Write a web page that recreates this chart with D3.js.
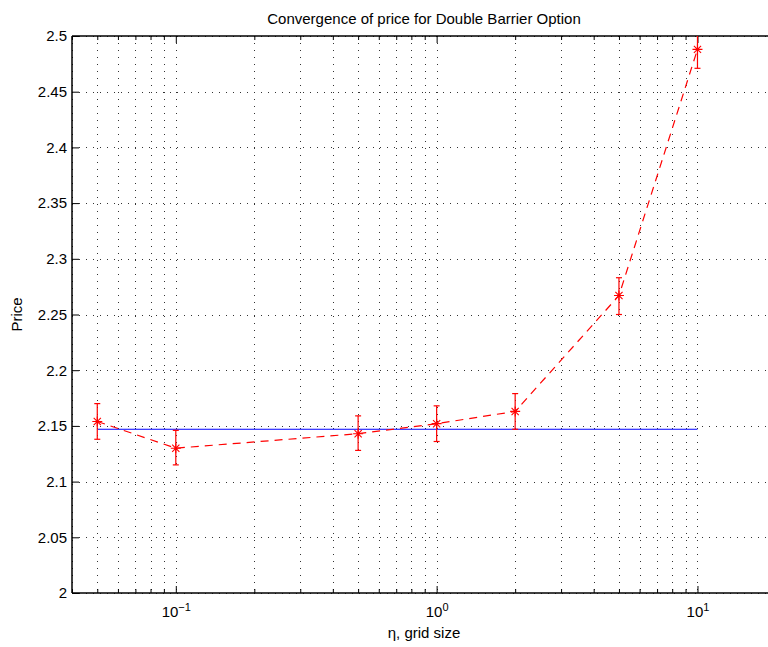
<!DOCTYPE html>
<html lang="en">
<head>
    <meta charset="UTF-8">
    <title>Convergence of price for Double Barrier Option</title>
    <script src="https://d3js.org/d3.v7.min.js"></script>
    <style>
        body {
            margin: 0;
            background: #fff;
            font-family: "Liberation Sans", Arial, sans-serif;
        }
        svg text {
            fill: #000;
        }
    </style>
</head>
<body>
    <div id="chart"></div>

    <script>
        // grid sizes (eta) and the estimated prices
        const gridSize = [0.05, 0.1, 0.5, 1, 2, 5, 10];
        const price    = [2.154, 2.130, 2.143, 2.152, 2.163, 2.267, 2.488];
        const errLow   = [2.138, 2.115, 2.128, 2.136, 2.147, 2.250, 2.471];
        const errHigh  = [2.170, 2.146, 2.159, 2.168, 2.179, 2.283, 2.506];

        // reference (exact) price, drawn across the data range
        const exactPrice = 2.147;

        const yTicks = [2, 2.05, 2.1, 2.15, 2.2, 2.25, 2.3, 2.35, 2.4, 2.45, 2.5];
        const xMajor = [0.1, 1, 10];
        const xMinor = [0.04, 0.05, 0.06, 0.07, 0.08, 0.09,
                        0.2, 0.3, 0.4, 0.5, 0.6, 0.7, 0.8, 0.9,
                        2, 3, 4, 5, 6, 7, 8, 9, 20];
        const xMajorLabels = ['\u22121', '0', '1'];

        const W = 768, H = 647;
        const margin = { top: 36, right: -8, bottom: 54, left: 72 };
        const width = W - margin.left - margin.right;
        const height = H - margin.top - margin.bottom;

        const svg = d3.select('#chart')
            .append('svg')
            .attr('width', W)
            .attr('height', H);

        const g = svg.append('g')
            .attr('transform', `translate(${margin.left}, ${margin.top})`);

        const x = d3.scaleLog().domain([0.04, 20]).range([0, width]);
        const y = d3.scaleLinear().domain([2, 2.5]).range([height, 0]);

        g.append('clipPath').attr('id', 'plot-clip')
            .append('rect')
            .attr('width', width)
            .attr('height', height);

        // dotted grid
        const grid = g.append('g').attr('stroke', '#333').attr('stroke-width', 1)
            .attr('stroke-dasharray', '1,6');
        grid.selectAll('.vgrid')
            .data(xMajor.concat(xMinor))
            .enter().append('line')
            .attr('x1', d => Math.round(x(d)) + 0.5)
            .attr('x2', d => Math.round(x(d)) + 0.5)
            .attr('y1', 0)
            .attr('y2', height);
        grid.selectAll('.hgrid')
            .data(yTicks)
            .enter().append('line')
            .attr('x1', 0)
            .attr('x2', width)
            .attr('y1', d => Math.round(y(d)) + 0.5)
            .attr('y2', d => Math.round(y(d)) + 0.5);

        // axes with inward ticks
        function styleAxis(sel) {
            sel.selectAll('.domain').remove();
            sel.selectAll('line').attr('stroke', '#000');
            sel.selectAll('text')
                .style('font-family', '"Liberation Sans", Arial, sans-serif')
                .style('font-size', '15px')
                .attr('fill', '#000');
        }

        g.append('g')
            .attr('transform', `translate(0, ${height})`)
            .call(d3.axisBottom(x).tickValues(xMinor).tickSizeInner(-4).tickSizeOuter(0).tickFormat(''))
            .call(styleAxis);
        const xMajorAxis = g.append('g')
            .attr('transform', `translate(0, ${height})`)
            .call(d3.axisBottom(x).tickValues(xMajor).tickSizeInner(-7).tickSizeOuter(0).tickPadding(13)
                .tickFormat(() => ''))
            .call(styleAxis);
        xMajorAxis.selectAll('.tick text')
            .each(function (d, i) {
                const t = d3.select(this);
                t.append('tspan').text('10');
                t.append('tspan').attr('dy', '-0.5em').style('font-size', '11px').text(xMajorLabels[i]);
            });

        g.append('g')
            .call(d3.axisTop(x).tickValues(xMinor).tickSizeInner(-4).tickSizeOuter(0).tickFormat(''))
            .call(styleAxis);
        g.append('g')
            .call(d3.axisTop(x).tickValues(xMajor).tickSizeInner(-7).tickSizeOuter(0).tickFormat(''))
            .call(styleAxis);

        g.append('g')
            .call(d3.axisLeft(y).tickValues(yTicks).tickSizeInner(-7).tickSizeOuter(0).tickPadding(5)
                .tickFormat(d3.format('~g')))
            .call(styleAxis);

        // axis box lines (the right side runs off the figure)
        g.append('line').attr('x1', 0).attr('x2', width).attr('y1', height).attr('y2', height)
            .attr('stroke', '#000').attr('stroke-width', 1.5);
        g.append('line').attr('x1', 0).attr('x2', width).attr('y1', 0).attr('y2', 0)
            .attr('stroke', '#000').attr('stroke-width', 1.5);
        g.append('line').attr('x1', 0).attr('x2', 0).attr('y1', 0).attr('y2', height)
            .attr('stroke', '#000').attr('stroke-width', 1.5);

        const plot = g.append('g').attr('clip-path', 'url(#plot-clip)');

        // exact price line
        plot.append('path')
            .datum([gridSize[0], gridSize[gridSize.length - 1]])
            .attr('fill', 'none')
            .attr('stroke', '#0000ff')
            .attr('stroke-width', 1.2)
            .attr('d', d3.line().x(d => x(d)).y(() => y(exactPrice)));

        // dashed convergence line
        plot.append('path')
            .datum(gridSize)
            .attr('fill', 'none')
            .attr('stroke', '#ff0000')
            .attr('stroke-width', 1.2)
            .attr('stroke-dasharray', '8,6')
            .attr('d', d3.line().x(d => x(d)).y((d, i) => y(price[i])));

        // error bars
        const bars = plot.selectAll('.err')
            .data(gridSize)
            .enter().append('g')
            .attr('class', 'err')
            .attr('stroke', '#ff0000')
            .attr('stroke-width', 1.2);
        bars.append('line')
            .attr('x1', d => x(d)).attr('x2', d => x(d))
            .attr('y1', (d, i) => y(errLow[i])).attr('y2', (d, i) => y(errHigh[i]));
        bars.append('line')
            .attr('x1', d => x(d) - 3).attr('x2', d => x(d) + 3)
            .attr('y1', (d, i) => y(errLow[i])).attr('y2', (d, i) => y(errLow[i]));
        bars.append('line')
            .attr('x1', d => x(d) - 3).attr('x2', d => x(d) + 3)
            .attr('y1', (d, i) => y(errHigh[i])).attr('y2', (d, i) => y(errHigh[i]));

        // asterisk markers
        const r = 5, rd = r * 0.72;
        plot.selectAll('.marker')
            .data(gridSize)
            .enter().append('path')
            .attr('class', 'marker')
            .attr('fill', 'none')
            .attr('stroke', '#ff0000')
            .attr('stroke-width', 1.1)
            .attr('transform', (d, i) => `translate(${x(d)}, ${y(price[i])})`)
            .attr('d', `M${-r},0H${r}M0,${-r}V${r}M${-rd},${-rd}L${rd},${rd}M${-rd},${rd}L${rd},${-rd}`);

        // title and labels
        svg.append('text')
            .attr('x', margin.left + width / 2)
            .attr('y', 24)
            .attr('text-anchor', 'middle')
            .style('font-size', '15px')
            .text('Convergence of price for Double Barrier Option');

        svg.append('text')
            .attr('x', margin.left + width / 2)
            .attr('y', 638)
            .attr('text-anchor', 'middle')
            .style('font-size', '15px')
            .text('\u03b7, grid size');

        svg.append('text')
            .attr('transform', `translate(22, ${margin.top + height / 2}) rotate(-90)`)
            .attr('text-anchor', 'middle')
            .style('font-size', '15px')
            .text('Price');
    </script>
</body>
</html>
